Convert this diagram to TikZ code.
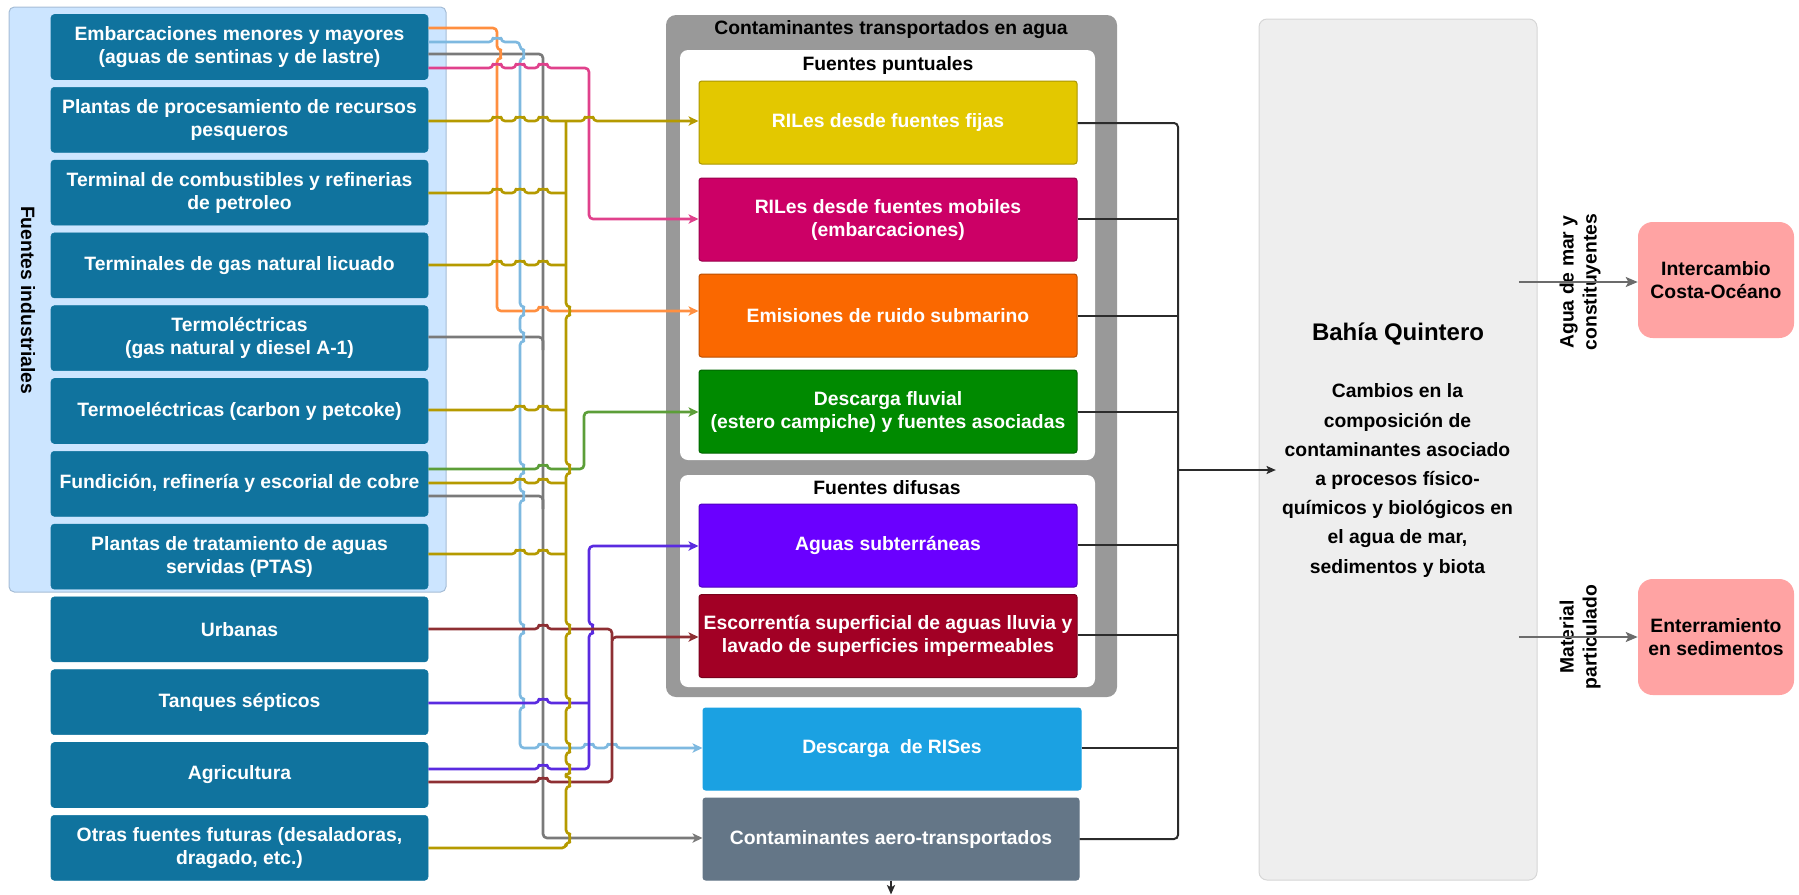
\documentclass[tikz,border=0pt]{standalone}
\usepackage{fontspec}
\setmainfont{Liberation Sans}
\usetikzlibrary{arrows.meta}
\definecolor{srcblue}{HTML}{10739E}
\definecolor{panelblue}{HTML}{CCE5FF}
\definecolor{panelline}{HTML}{A6BDD6}
\definecolor{contgray}{HTML}{999999}
\definecolor{baygray}{HTML}{EEEEEE}
\definecolor{bayline}{HTML}{D6D6D6}
\definecolor{sinkpink}{HTML}{FFA3A3}
\definecolor{fYel}{HTML}{E3C800}
\definecolor{fMag}{HTML}{CC0066}
\definecolor{fOra}{HTML}{FA6800}
\definecolor{fGrn}{HTML}{008A00}
\definecolor{fPur}{HTML}{6A00FF}
\definecolor{fRed}{HTML}{A20025}
\definecolor{fSky}{HTML}{1BA1E2}
\definecolor{fSla}{HTML}{647687}
\definecolor{cOr}{HTML}{FF8F40}
\definecolor{cLB}{HTML}{7EB9E0}
\definecolor{cGr}{HTML}{7A7A7A}
\definecolor{cPk}{HTML}{E0418C}
\definecolor{cOl}{HTML}{B59A00}
\definecolor{cGn}{HTML}{5C9E38}
\definecolor{cPu}{HTML}{5A2BE0}
\definecolor{cDR}{HTML}{8E2F33}
\definecolor{cBk}{HTML}{2B2B2B}
\definecolor{cRt}{HTML}{6B6B6B}
\begin{document}
\begin{tikzpicture}[x=0.75pt,y=-0.75pt,
  lbl/.style={font=\fontsize{14.5}{17.25}\selectfont\bfseries, align=center, inner sep=0pt},
  panel/.style={fill=panelblue, draw=panelline, line width=0.75pt, rounded corners=4pt,
    minimum width=327.75pt, minimum height=438.75pt, inner sep=0pt},
  src/.style={lbl, fill=srcblue, draw=srcblue, text=white, rounded corners=2.5pt,
    minimum width=282.75pt, minimum height=48.75pt},
  cont/.style={fill=contgray, rounded corners=7.5pt, minimum width=338.25pt,
    minimum height=511.5pt, inner sep=0pt},
  inpanel/.style={fill=white, rounded corners=6pt, minimum width=311.25pt, inner sep=0pt},
  mid/.style={lbl, text=white, rounded corners=2pt, line width=0.75pt,
    minimum width=283.5pt, minimum height=62.25pt},
  bay/.style={fill=baygray, draw=bayline, line width=0.75pt, rounded corners=6pt,
    minimum width=208.5pt, minimum height=645.75pt, inner sep=0pt},
  sink/.style={lbl, fill=sinkpink, rounded corners=11pt, minimum width=117pt, minimum height=87pt},
  con/.style={line width=2pt, rounded corners=3pt, line join=round},
  arr/.style={-{Stealth[length=7.5pt,width=7pt,inset=2pt]}},
  blk/.style={draw=cBk, line width=1.5pt},
  barr/.style={-{Stealth[length=7pt,width=6pt,inset=1.5pt]}},
  hx/.style 2 args={insert path={-- ({#1-4},#2) arc[start angle=180,end angle=0,radius=3pt]}},
  vx/.style 2 args={insert path={-- (#1,{#2-4}) arc[start angle=90,end angle=-90,radius=3pt]}},
  vux/.style 2 args={insert path={-- (#1,{#2+4}) arc[start angle=-90,end angle=90,radius=3pt]}},
]
\useasboundingbox (0,0) rectangle (1799,894);

% industrial sources panel
\node[panel] (ind) at (227.5,299.5) {};
\node[lbl, rotate=-90] (indl) at (28,300) {Fuentes industriales};

% source boxes
\node[src] (s1) at (239.5,47.0) {Embarcaciones menores y mayores\\(aguas de sentinas y de lastre)};
\node[src] (s2) at (239.5,119.8) {Plantas de procesamiento de recursos\\pesqueros};
\node[src] (s3) at (239.5,192.6) {Terminal de combustibles y refinerias\\de petroleo};
\node[src] (s4) at (239.5,265.4) {Terminales de gas natural licuado};
\node[src] (s5) at (239.5,338.2) {Termoléctricas\\(gas natural y diesel A-1)};
\node[src] (s6) at (239.5,411.0) {Termoeléctricas (carbon y petcoke)};
\node[src] (s7) at (239.5,483.8) {Fundición, refinería y escorial de cobre};
\node[src] (s8) at (239.5,556.6) {Plantas de tratamiento de aguas\\servidas (PTAS)};
\node[src] (s9) at (239.5,629.4) {Urbanas};
\node[src] (s10) at (239.5,702.2) {Tanques sépticos};
\node[src] (s11) at (239.5,775.0) {Agricultura};
\node[src] (s12) at (239.5,847.8) {Otras fuentes futuras (desaladoras,\\dragado, etc.)};

% water-borne contaminants container
\node[cont] (wc) at (891.5,356) {};
\node[lbl] (wct) at (891,30) {Contaminantes transportados en agua};
\node[inpanel, minimum height=307.5pt] (fp) at (887.5,255) {};
\node[lbl] (fpt) at (888,65) {Fuentes puntuales};
\node[inpanel, minimum height=159pt] (fd) at (887.5,581) {};
\node[lbl] (fdt) at (887,488) {Fuentes difusas};

\node[mid, fill=fYel, draw=fYel!75!black] (c1) at (888,122.5) {RILes desde fuentes fijas};
\node[mid, fill=fMag, draw=fMag!75!black] (c2) at (888,219.5) {RILes desde fuentes mobiles\\(embarcaciones)};
\node[mid, fill=fOra, draw=fOra!75!black] (c3) at (888,315.5) {Emisiones de ruido submarino};
\node[mid, fill=fGrn, draw=fGrn!75!black] (c4) at (888,411.5) {Descarga fluvial\\(estero campiche) y fuentes asociadas};
\node[mid, fill=fPur, draw=fPur!75!black] (c5) at (888,545.5) {Aguas subterráneas};
\node[mid, fill=fRed, draw=fRed!75!black] (c6) at (888,636) {Escorrentía superficial de aguas lluvia y\\lavado de superficies impermeables};
\node[mid, fill=fSky, draw=fSky, minimum height=61.5pt] (c7) at (892,749) {Descarga\ \ de RISes};
\node[mid, fill=fSla, draw=fSla, minimum height=61.5pt, minimum width=282pt] (c8) at (891,839) {Contaminantes aero-transportados};

% bay
\node[bay] (bq) at (1398,449.5) {};
\node[font=\fontsize{18}{21}\selectfont\bfseries, inner sep=0pt] (bqt) at (1398,334) {Bahía Quintero};
\node[lbl, font=\fontsize{14.5}{21.9}\selectfont\bfseries] (bqd) at (1397.5,480.5)
  {Cambios en la\\composición de\\contaminantes asociado\\a procesos físico-\\químicos y biológicos en\\el agua de mar,\\sedimentos y biota};

% sinks
\node[sink] (ic) at (1716,280) {Intercambio\\Costa-Océano};
\node[sink] (es) at (1716,637) {Enterramiento\\en sedimentos};
\node[lbl, rotate=90] (l1) at (1580,282) {Agua de mar y\\constituyentes};
\node[lbl, rotate=90] (l2) at (1580,637) {Material\\particulado};
\draw[draw=cRt, line width=1.5pt, -{Stealth[length=9pt,width=7.5pt,inset=2pt]}, shorten <=-14pt]
  (bq.east |- 0,282) -- (ic.west |- 0,282);
\draw[draw=cRt, line width=1.5pt, -{Stealth[length=9pt,width=7.5pt,inset=2pt]}, shorten <=-14pt]
  (bq.east |- 0,637) -- (es.west |- 0,637);

% collector towards the bay
\draw[blk, rounded corners=3pt] (c1.east |- 0,123) -- (1178,123) -- (1178,839) -- (c8.east |- 0,839);
\draw[blk] (c2.east |- 0,219) -- (1178,219);
\draw[blk] (c3.east |- 0,316) -- (1178,316);
\draw[blk] (c4.east |- 0,412) -- (1178,412);
\draw[blk] (c5.east |- 0,545) -- (1178,545);
\draw[blk] (c6.east |- 0,635) -- (1178,635);
\draw[blk] (c7.east |- 0,748) -- (1178,748);
\draw[blk, barr, shorten >=-13pt] (1178,470) -- (bq.west |- 0,470);
\draw[blk, barr] (c8.south) -- ++(0,14);

% source connectors
\draw[con, draw=cGr, arr] (s1.east |- 0,54) -- (543,54) -- (543,838) -- (c8.west |- 0,838);
\draw[con, draw=cGr] (s5.east |- 0,337) -- (543,337) -- (543,350);
\draw[con, draw=cGr] (s7.east |- 0,496) -- (543,496) -- (543,509);

\draw[con, draw=cOr, arr] (s1.east |- 0,28) -- (497,28) [vx={497}{54}] -- (497,311)
  [hx={543}{311}] -- (c3.west |- 0,311);

\draw[con, draw=cLB, arr] (s1.east |- 0,42) [hx={497}{42}] -- (520,42)
  [vx={520}{54}] [vx={520}{311}] [vx={520}{337}] [vx={520}{469}] [vx={520}{496}]
  [vx={520}{629}] [vx={520}{703}] -- (520,748)
  [hx={543}{748}] [hx={589}{748}] [hx={612}{748}] -- (c7.west |- 0,748);

\draw[con, draw=cPk, arr] (s1.east |- 0,68) [hx={497}{68}] [hx={520}{68}] [hx={543}{68}]
  -- (589,68) -- (589,219) -- (c2.west |- 0,219);

\draw[con, draw=cGn, arr] (s7.east |- 0,469) [hx={543}{469}] -- (584,469) -- (584,412)
  -- (c4.west |- 0,412);

\draw[con, draw=cPu, arr] (s11.east |- 0,769) [hx={543}{769}] -- (589,769) [vux={589}{629}]
  -- (589,546) -- (c5.west |- 0,546);
\draw[con, draw=cPu] (s10.east |- 0,703) [hx={543}{703}] -- (589,703);

\draw[con, draw=cDR, arr] (s11.east |- 0,782) [hx={543}{782}] -- (612,782) -- (612,637)
  -- (c6.west |- 0,637);
\draw[con, draw=cDR] (s9.east |- 0,629) [hx={543}{629}] -- (612,629) -- (612,640);

\draw[con, draw=cOl, arr] (s2.east |- 0,121) [hx={497}{121}] [hx={520}{121}] [hx={543}{121}]
  [hx={589}{121}] -- (c1.west |- 0,121);
\draw[con, draw=cOl] (566,121) [vx={566}{311}] [vx={566}{469}] [vx={566}{629}] [vx={566}{703}]
  [vx={566}{748}] [vx={566}{769}] [vx={566}{782}] [vx={566}{838}] -- (566,848)
  -- (s12.east |- 0,848);
\draw[con, draw=cOl] (s3.east |- 0,193) [hx={497}{193}] [hx={520}{193}] [hx={543}{193}] -- (566,193);
\draw[con, draw=cOl] (s4.east |- 0,265) [hx={497}{265}] [hx={520}{265}] [hx={543}{265}] -- (566,265);
\draw[con, draw=cOl] (s6.east |- 0,410) [hx={520}{410}] [hx={543}{410}] -- (566,410);
\draw[con, draw=cOl] (s7.east |- 0,483) [hx={520}{483}] [hx={543}{483}] -- (566,483);
\draw[con, draw=cOl] (s8.east |- 0,554) [hx={520}{554}] [hx={543}{554}] -- (566,554);
\end{tikzpicture}
\end{document}
